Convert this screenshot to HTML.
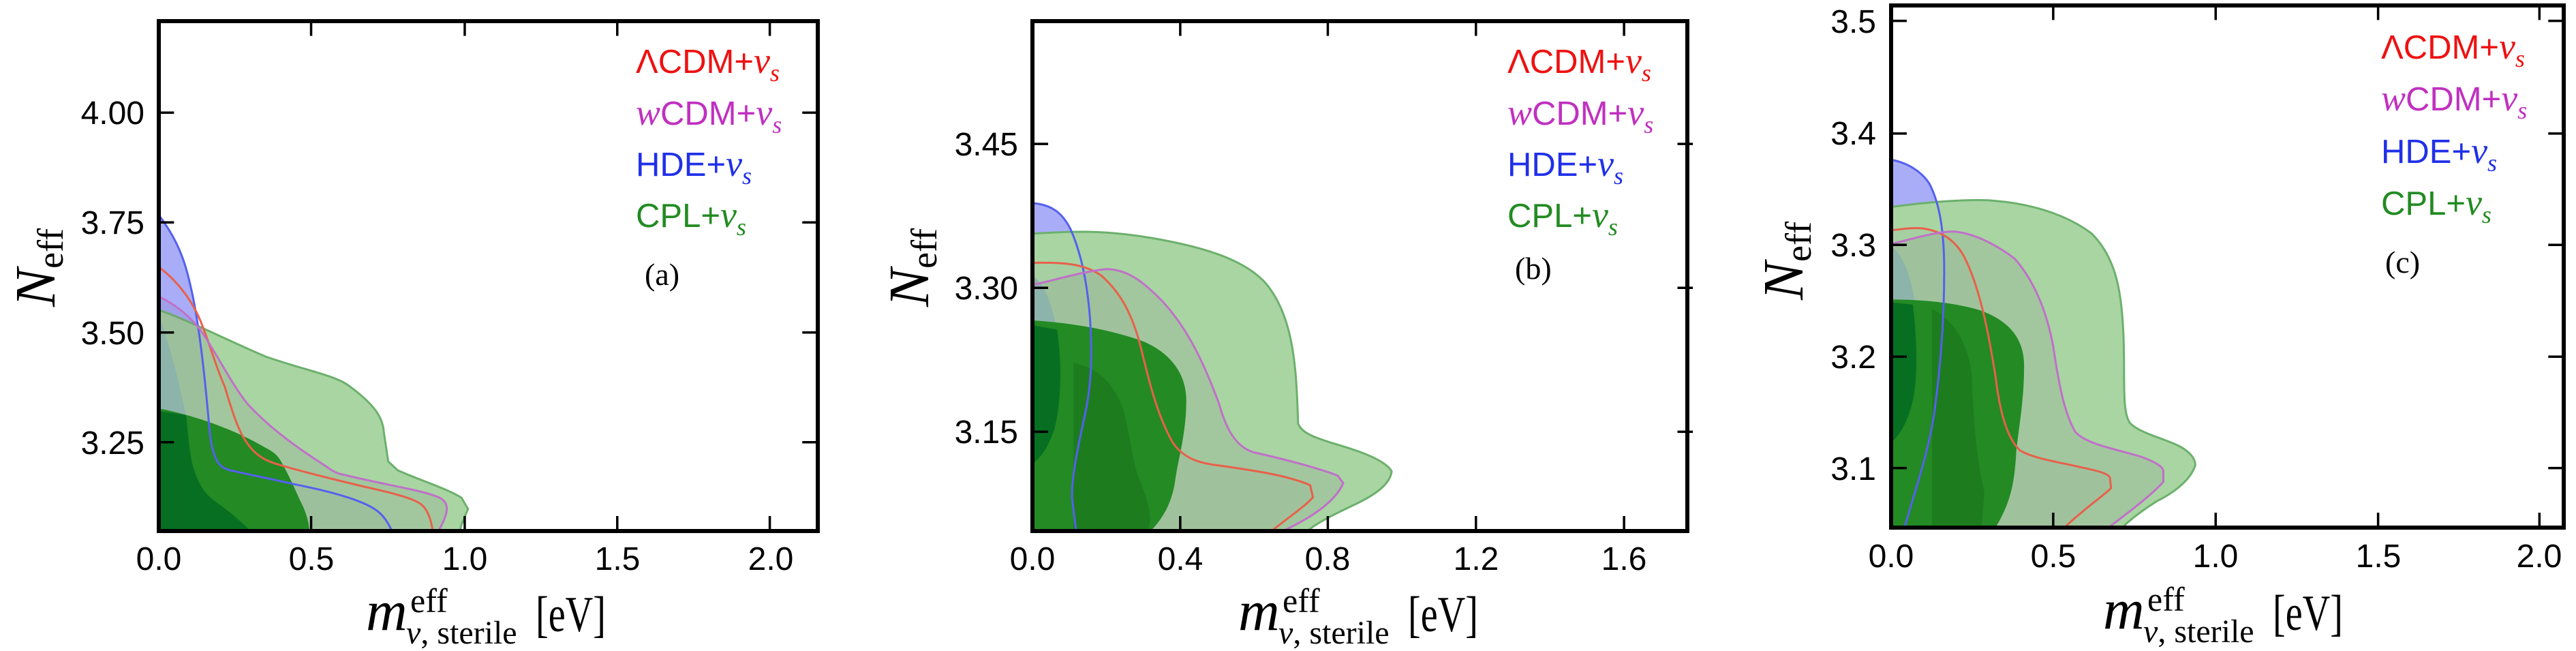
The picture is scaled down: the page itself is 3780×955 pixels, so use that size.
<!DOCTYPE html>
<html><head><meta charset="utf-8"><style>
html,body{margin:0;padding:0;background:#fff}
svg{display:block}
.t{font-family:"Liberation Sans",sans-serif;font-size:48px;fill:#000}
.lg{font-family:"Liberation Sans",sans-serif;font-size:49px}
.sr{font-family:"Liberation Serif",serif}
</style></head><body>
<svg width="3780" height="955" viewBox="0 0 3780 955" xmlns="http://www.w3.org/2000/svg">
<defs>
<clipPath id="ca"><rect x="288" y="50" width="1197" height="1223"/></clipPath>
<clipPath id="cb"><rect x="316" y="50" width="1199" height="1223"/></clipPath>
<clipPath id="cc"><rect x="316" y="12" width="1221" height="1253"/></clipPath>
<clipPath id="ga"><path d="M288,743 C330,760 420,820 483,855 C560,890 610,900 635,926 C680,970 695,1000 697,1035 L705,1106 L722,1127 C760,1150 810,1170 838,1193 L850,1220 L838,1258 L835,1273 L288,1273 Z"/></clipPath>
<clipPath id="gb"><path d="M316,560 C380,555 440,550 530,570 C620,590 700,620 740,680 C790,760 795,880 798,1015 C805,1040 830,1050 880,1070 C930,1090 960,1110 968,1130 C965,1160 940,1185 900,1210 C860,1235 830,1255 815,1273 L316,1273 Z"/></clipPath>
<clipPath id="gc"><path d="M316,496 C380,485 440,478 490,480 C560,485 630,510 680,560 C725,620 735,700 738,820 C740,920 735,990 750,1015 C770,1040 810,1050 840,1070 C860,1085 868,1100 868,1115 C860,1150 830,1180 800,1200 C770,1225 750,1245 735,1265 L316,1265 Z"/></clipPath>
</defs>

<!-- ============ PANEL A ============ -->
<g transform="translate(0,0) scale(0.808,0.612)">
 <g clip-path="url(#ca)">
  <path d="M288,515 C320,570 335,620 345,680 C360,760 372,900 380,1024 C386,1110 400,1120 417,1127 C460,1140 500,1150 532,1160 C590,1175 630,1190 656,1204 C690,1222 700,1240 712,1273 L288,1273 Z" fill="#a9adf8"/>
  <path d="M288,711 C320,730 345,760 363,789 C395,850 420,920 450,969 C500,1040 560,1090 590,1116 C600,1125 605,1130 615,1135 C660,1150 700,1160 739,1171 C770,1180 795,1188 804,1198 C815,1210 815,1230 796,1273 L288,1273 Z" fill="rgba(90,40,110,0.1)"/>
  <path d="M288,743 C330,760 420,820 483,855 C560,890 610,900 635,926 C680,970 695,1000 697,1035 L705,1106 L722,1127 C760,1150 810,1170 838,1193 L850,1220 L838,1258 L835,1273 L288,1273 Z" fill="#a9d5a3" stroke="#6cb06c" stroke-width="3" vector-effect="non-scaling-stroke"/>
  <g clip-path="url(#ga)">
   <path d="M288,711 C320,730 345,760 363,789 C395,850 420,920 450,969 C500,1040 560,1090 590,1116 C600,1125 605,1130 615,1135 C660,1150 700,1160 739,1171 C770,1180 795,1188 804,1198 C815,1210 815,1230 796,1273 L288,1273 Z" fill="rgba(120,110,130,0.14)"/>
   <path d="M288,515 C320,570 335,620 345,680 C360,760 372,900 380,1024 C386,1110 400,1120 417,1127 C460,1140 500,1150 532,1160 C590,1175 630,1190 656,1204 C690,1222 700,1240 712,1273 L288,1273 Z" fill="rgba(100,110,140,0.08)"/>
  </g>
  <path d="M288,750 C300,800 315,860 325,920 L338,995 L288,985 Z" fill="#8db4aa"/>
  <path d="M288,979 C370,1000 440,1040 483,1074 C500,1085 505,1095 510,1105 C525,1140 535,1170 545,1200 C555,1225 560,1245 562,1273 L288,1273 Z" fill="#238a24"/>
  <path d="M288,985 L338,995 C342,1050 345,1090 350,1116 C360,1160 370,1180 387,1198 C410,1220 430,1240 455,1273 L288,1273 Z" fill="#066f22"/>
  <g fill="none" stroke-width="3">
   <path d="M288,515 C320,570 335,620 345,680 C360,760 372,900 380,1024 C386,1110 400,1120 417,1127 C460,1140 500,1150 532,1160 C590,1175 630,1190 656,1204 C690,1222 700,1240 712,1273" stroke="#5560ee" vector-effect="non-scaling-stroke"/>
   <path d="M288,640 C320,670 350,720 367,779 C385,840 395,890 408,926 C420,980 430,1020 441,1046 C460,1090 480,1105 512,1116 C560,1135 610,1150 656,1165 C700,1178 740,1190 759,1204 C775,1215 782,1240 786,1273" stroke="#e8604a" vector-effect="non-scaling-stroke"/>
   <path d="M288,711 C320,730 345,760 363,789 C395,850 420,920 450,969 C500,1040 560,1090 590,1116 C600,1125 605,1130 615,1135 C660,1150 700,1160 739,1171 C770,1180 795,1188 804,1198 C815,1210 815,1230 796,1273" stroke="#c070c8" vector-effect="non-scaling-stroke"/>
  </g>
 </g>
 <g stroke="#000" stroke-width="3.5">
  <path d="M565,1273v-36M844,1273v-36M1121,1273v-36M1398,1273v-36 M565,50v36M844,50v36M1121,50v36M1398,50v36 M288,270h28M288,533h28M288,797h28M288,1060h28 M1485,270h-28M1485,533h-28M1485,797h-28M1485,1060h-28" vector-effect="non-scaling-stroke"/>
 </g>
</g>
<rect x="233" y="31" width="967" height="748" fill="none" stroke="#000" stroke-width="6"/>
<g class="t" text-anchor="end"><text x="212" y="182">4.00</text><text x="212" y="343">3.75</text><text x="212" y="505">3.50</text><text x="212" y="666">3.25</text></g>
<g class="t" text-anchor="middle"><text x="233" y="836">0.0</text><text x="457" y="836">0.5</text><text x="682" y="836">1.0</text><text x="906" y="836">1.5</text><text x="1131" y="836">2.0</text></g>
<g class="lg">
 <text x="933" y="107" fill="#ee1111">ΛCDM+<tspan class="sr" font-style="italic" font-size="54">ν</tspan><tspan class="sr" font-style="italic" font-size="36" dy="12">s</tspan></text>
 <text x="933" y="183" fill="#c030c0"><tspan class="sr" font-style="italic" font-size="54">w</tspan>CDM+<tspan class="sr" font-style="italic" font-size="54">ν</tspan><tspan class="sr" font-style="italic" font-size="36" dy="12">s</tspan></text>
 <text x="933" y="258" fill="#2030e8">HDE+<tspan class="sr" font-style="italic" font-size="54">ν</tspan><tspan class="sr" font-style="italic" font-size="36" dy="12">s</tspan></text>
 <text x="933" y="333" fill="#228b22">CPL+<tspan class="sr" font-style="italic" font-size="54">ν</tspan><tspan class="sr" font-style="italic" font-size="36" dy="12">s</tspan></text>
</g>
<text x="946" y="418" class="sr" font-size="46">(a)</text>
<text transform="translate(80,450) rotate(-90)" class="sr" font-size="84" font-style="italic">N<tspan font-size="54" font-style="normal" dy="12">eff</tspan></text>
<g class="sr"><text x="537" y="924" font-size="84" font-style="italic">m</text><text x="602" y="898" font-size="50">eff</text><text x="596" y="944" font-size="48"><tspan font-style="italic">ν</tspan>, sterile</text><text x="786" y="926" font-size="74" textLength="103" lengthAdjust="spacingAndGlyphs">[eV]</text></g>

<!-- ============ PANEL B ============ -->
<g transform="translate(1260,0) scale(0.808,0.612)">
 <g clip-path="url(#cb)">
  <path d="M316,487 C350,490 370,510 385,550 C405,610 415,680 420,760 C425,860 422,930 410,1000 C395,1090 385,1160 388,1200 L395,1273 L316,1273 Z" fill="#a9adf8"/>
  <path d="M316,683 C360,670 410,650 450,645 C490,645 520,680 550,720 C600,790 630,880 655,970 C670,1040 690,1075 720,1085 C770,1100 830,1120 870,1140 L880,1158 C870,1190 840,1230 770,1273 L316,1273 Z" fill="rgba(90,40,110,0.1)"/>
  <path d="M316,560 C380,555 440,550 530,570 C620,590 700,620 740,680 C790,760 795,880 798,1015 C805,1040 830,1050 880,1070 C930,1090 960,1110 968,1130 C965,1160 940,1185 900,1210 C860,1235 830,1255 815,1273 L316,1273 Z" fill="#a9d5a3" stroke="#6cb06c" stroke-width="3" vector-effect="non-scaling-stroke"/>
  <g clip-path="url(#gb)">
   <path d="M316,683 C360,670 410,650 450,645 C490,645 520,680 550,720 C600,790 630,880 655,970 C670,1040 690,1075 720,1085 C770,1100 830,1120 870,1140 L880,1158 C870,1190 840,1230 770,1273 L316,1273 Z" fill="rgba(120,110,130,0.14)"/>
   <path d="M316,630 C370,628 410,632 440,660 C475,700 495,750 510,820 C525,900 540,990 570,1060 C590,1100 620,1110 650,1115 C720,1128 780,1140 820,1163 L825,1192 C810,1215 780,1240 750,1273 L316,1273 Z" fill="rgba(120,110,130,0.05)"/>
  </g>
  <path d="M316,660 C335,680 350,720 358,780 L360,850 L316,850 Z" fill="#8db4aa"/>
  <path d="M316,768 C400,775 470,795 520,820 C570,850 595,900 595,960 C595,1040 580,1100 575,1150 C570,1200 555,1240 530,1273 L316,1273 Z" fill="#238a24"/>
  <path d="M316,780 L360,790 C368,850 370,960 355,1030 C345,1070 330,1100 316,1110 Z" fill="#066f22"/>
  <path d="M390,870 C430,880 460,910 480,980 C495,1050 495,1100 510,1150 C525,1200 535,1240 525,1273 L390,1273 Z" fill="rgba(0,50,0,0.15)"/>
  <g fill="none" stroke-width="3">
   <path d="M316,487 C350,490 370,510 385,550 C405,610 415,680 420,760 C425,860 422,930 410,1000 C395,1090 385,1160 388,1200 L395,1273" stroke="#5560ee" vector-effect="non-scaling-stroke"/>
   <path d="M316,630 C370,628 410,632 440,660 C475,700 495,750 510,820 C525,900 540,990 570,1060 C590,1100 620,1110 650,1115 C720,1128 780,1140 820,1163 L825,1192 C810,1215 780,1240 750,1273" stroke="#e8604a" vector-effect="non-scaling-stroke"/>
   <path d="M316,683 C360,670 410,650 450,645 C490,645 520,680 550,720 C600,790 630,880 655,970 C670,1040 690,1075 720,1085 C770,1100 830,1120 870,1140 L880,1158 C870,1190 840,1230 770,1273" stroke="#c070c8" vector-effect="non-scaling-stroke"/>
  </g>
 </g>
 <g stroke="#000" stroke-width="3.5">
  <path d="M584,1273v-36M852,1273v-36M1121,1273v-36M1390,1273v-36 M584,50v36M852,50v36M1121,50v36M1390,50v36 M316,345h28M316,690h28M316,1035h28 M1515,345h-28M1515,690h-28M1515,1035h-28" vector-effect="non-scaling-stroke"/>
 </g>
</g>
<rect x="1515" y="31" width="961" height="748" fill="none" stroke="#000" stroke-width="6"/>
<g class="t" text-anchor="end"><text x="1494" y="228">3.45</text><text x="1494" y="439">3.30</text><text x="1494" y="650">3.15</text></g>
<g class="t" text-anchor="middle"><text x="1515" y="836">0.0</text><text x="1732" y="836">0.4</text><text x="1948" y="836">0.8</text><text x="2166" y="836">1.2</text><text x="2383" y="836">1.6</text></g>
<g class="lg">
 <text x="2212" y="107" fill="#ee1111">ΛCDM+<tspan class="sr" font-style="italic" font-size="54">ν</tspan><tspan class="sr" font-style="italic" font-size="36" dy="12">s</tspan></text>
 <text x="2212" y="183" fill="#c030c0"><tspan class="sr" font-style="italic" font-size="54">w</tspan>CDM+<tspan class="sr" font-style="italic" font-size="54">ν</tspan><tspan class="sr" font-style="italic" font-size="36" dy="12">s</tspan></text>
 <text x="2212" y="258" fill="#2030e8">HDE+<tspan class="sr" font-style="italic" font-size="54">ν</tspan><tspan class="sr" font-style="italic" font-size="36" dy="12">s</tspan></text>
 <text x="2212" y="333" fill="#228b22">CPL+<tspan class="sr" font-style="italic" font-size="54">ν</tspan><tspan class="sr" font-style="italic" font-size="36" dy="12">s</tspan></text>
</g>
<text x="2223" y="409" class="sr" font-size="46">(b)</text>
<text transform="translate(1362,450) rotate(-90)" class="sr" font-size="84" font-style="italic">N<tspan font-size="54" font-style="normal" dy="12">eff</tspan></text>
<g class="sr"><text x="1817" y="924" font-size="84" font-style="italic">m</text><text x="1882" y="898" font-size="50">eff</text><text x="1876" y="944" font-size="48"><tspan font-style="italic">ν</tspan>, sterile</text><text x="2066" y="926" font-size="74" textLength="103" lengthAdjust="spacingAndGlyphs">[eV]</text></g>

<!-- ============ PANEL C ============ -->
<g transform="translate(2520,0) scale(0.808,0.612)">
 <g clip-path="url(#cc)">
  <path d="M316,383 C345,390 370,410 385,440 C405,490 412,560 412,650 C412,770 405,880 395,980 C385,1080 360,1170 340,1265 L316,1265 Z" fill="#a9adf8"/>
  <path d="M316,585 C360,570 400,555 430,555 C470,560 510,590 540,620 C580,680 600,760 610,830 C620,920 630,990 650,1035 C670,1065 720,1075 770,1095 C800,1110 810,1120 810,1130 L810,1155 C790,1185 750,1225 710,1265 L316,1265 Z" fill="rgba(90,40,110,0.1)"/>
  <path d="M316,496 C380,485 440,478 490,480 C560,485 630,510 680,560 C725,620 735,700 738,820 C740,920 735,990 750,1015 C770,1040 810,1050 840,1070 C860,1085 868,1100 868,1115 C860,1150 830,1180 800,1200 C770,1225 750,1245 735,1265 L316,1265 Z" fill="#a9d5a3" stroke="#6cb06c" stroke-width="3" vector-effect="non-scaling-stroke"/>
  <g clip-path="url(#gc)">
   <path d="M316,585 C360,570 400,555 430,555 C470,560 510,590 540,620 C580,680 600,760 610,830 C620,920 630,990 650,1035 C670,1065 720,1075 770,1095 C800,1110 810,1120 810,1130 L810,1155 C790,1185 750,1225 710,1265 L316,1265 Z" fill="rgba(120,110,130,0.14)"/>
   <path d="M316,552 C340,548 360,545 375,548 C410,555 435,580 450,620 C480,700 495,820 505,900 C512,980 525,1050 550,1080 C575,1100 630,1110 660,1120 C690,1128 710,1135 713,1145 L715,1170 C700,1190 670,1215 630,1265 L316,1265 Z" fill="rgba(120,110,130,0.05)"/>
  </g>
  <path d="M316,590 C335,610 350,650 358,720 L316,720 Z" fill="#8db4aa"/>
  <path d="M316,718 C380,718 440,728 480,745 C530,770 555,810 557,870 C558,950 548,1020 543,1080 C540,1150 535,1200 505,1265 L316,1265 Z" fill="#238a24"/>
  <path d="M316,725 L355,730 C362,800 365,900 355,960 C348,1000 335,1040 316,1060 Z" fill="#066f22"/>
  <path d="M390,740 C430,770 455,820 462,900 C465,1000 470,1100 485,1180 L480,1265 L390,1265 Z" fill="rgba(0,50,0,0.15)"/>
  <g fill="none" stroke-width="3">
   <path d="M316,383 C345,390 370,410 385,440 C405,490 412,560 412,650 C412,770 405,880 395,980 C385,1080 360,1170 340,1265" stroke="#5560ee" vector-effect="non-scaling-stroke"/>
   <path d="M316,552 C340,548 360,545 375,548 C410,555 435,580 450,620 C480,700 495,820 505,900 C512,980 525,1050 550,1080 C575,1100 630,1110 660,1120 C690,1128 710,1135 713,1145 L715,1170 C700,1190 670,1215 630,1265" stroke="#e8604a" vector-effect="non-scaling-stroke"/>
   <path d="M316,585 C360,570 400,555 430,555 C470,560 510,590 540,620 C580,680 600,760 610,830 C620,920 630,990 650,1035 C670,1065 720,1075 770,1095 C800,1110 810,1120 810,1130 L810,1155 C790,1185 750,1225 710,1265" stroke="#c070c8" vector-effect="non-scaling-stroke"/>
  </g>
 </g>
 <g stroke="#000" stroke-width="3.5">
  <path d="M610,1265v-36M905,1265v-36M1200,1265v-36M1493,1265v-36 M610,12v36M905,12v36M1200,12v36M1493,12v36 M316,50h28M316,320h28M316,587h28M316,855h28M316,1122h28 M1537,50h-28M1537,320h-28M1537,587h-28M1537,855h-28M1537,1122h-28" vector-effect="non-scaling-stroke"/>
 </g>
</g>
<rect x="2775" y="8" width="987" height="766" fill="none" stroke="#000" stroke-width="6"/>
<g class="t" text-anchor="end"><text x="2753" y="48">3.5</text><text x="2753" y="212">3.4</text><text x="2753" y="376">3.3</text><text x="2753" y="540">3.2</text><text x="2753" y="704">3.1</text></g>
<g class="t" text-anchor="middle"><text x="2775" y="832">0.0</text><text x="3013" y="832">0.5</text><text x="3251" y="832">1.0</text><text x="3490" y="832">1.5</text><text x="3726" y="832">2.0</text></g>
<g class="lg">
 <text x="3494" y="86" fill="#ee1111">ΛCDM+<tspan class="sr" font-style="italic" font-size="54">ν</tspan><tspan class="sr" font-style="italic" font-size="36" dy="12">s</tspan></text>
 <text x="3494" y="162" fill="#c030c0"><tspan class="sr" font-style="italic" font-size="54">w</tspan>CDM+<tspan class="sr" font-style="italic" font-size="54">ν</tspan><tspan class="sr" font-style="italic" font-size="36" dy="12">s</tspan></text>
 <text x="3494" y="239" fill="#2030e8">HDE+<tspan class="sr" font-style="italic" font-size="54">ν</tspan><tspan class="sr" font-style="italic" font-size="36" dy="12">s</tspan></text>
 <text x="3494" y="315" fill="#228b22">CPL+<tspan class="sr" font-style="italic" font-size="54">ν</tspan><tspan class="sr" font-style="italic" font-size="36" dy="12">s</tspan></text>
</g>
<text x="3500" y="400" class="sr" font-size="46">(c)</text>
<text transform="translate(2645,440) rotate(-90)" class="sr" font-size="84" font-style="italic">N<tspan font-size="54" font-style="normal" dy="12">eff</tspan></text>
<g class="sr"><text x="3086" y="922" font-size="84" font-style="italic">m</text><text x="3151" y="896" font-size="50">eff</text><text x="3145" y="942" font-size="48"><tspan font-style="italic">ν</tspan>, sterile</text><text x="3335" y="924" font-size="74" textLength="103" lengthAdjust="spacingAndGlyphs">[eV]</text></g>
</svg>
</body></html>
